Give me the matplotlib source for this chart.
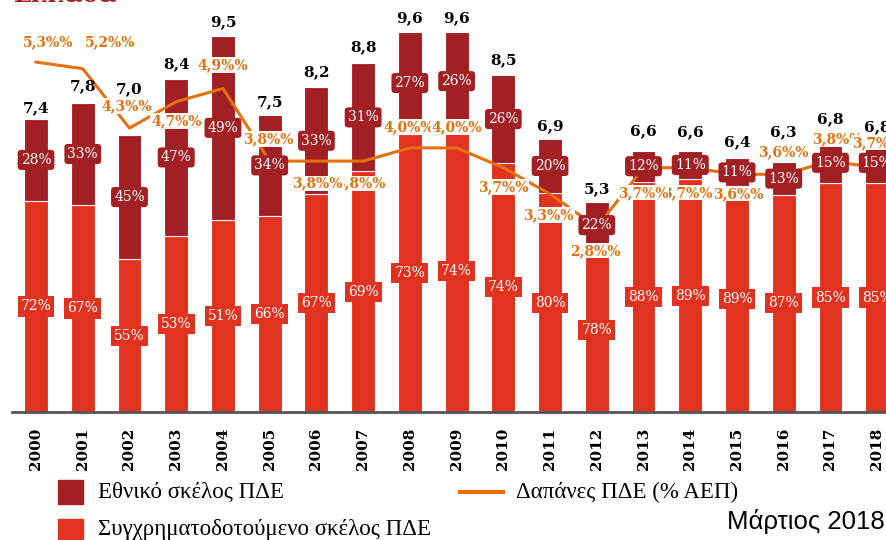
import numpy as np
import matplotlib
matplotlib.use('Agg')
import matplotlib.pyplot as plt
from matplotlib.patches import Rectangle
from matplotlib.lines import Line2D

# data
years = [str(y) for y in range(2000, 2019)]
totals = [7.4, 7.8, 7.0, 8.4, 9.5, 7.5, 8.2, 8.8, 9.6, 9.6, 8.5, 6.9, 5.3, 6.6, 6.6, 6.4, 6.3, 6.8, 6.8]
national_pct = [28, 33, 45, 47, 49, 34, 33, 31, 27, 26, 26, 20, 22, 12, 11, 11, 13, 15, 15]
cofin_pct = [72, 67, 55, 53, 51, 66, 67, 69, 73, 74, 74, 80, 78, 88, 89, 89, 87, 85, 85]
gdp_share = [5.3, 5.2, 4.3, 4.7, 4.9, 3.8, 3.8, 3.8, 4.0, 4.0, 3.7, 3.3, 2.8, 3.7, 3.7, 3.6, 3.6, 3.8, 3.7]

# label offsets (points), picked by eye
line_lbl_off = [(9, 14), (20, 19), (-2, 16), (0, -14), (0, 17), (-1, 16), (1, -16), (-2, -16),
                (-1, 15), (0, 15), (0, -14), (-1, -15), (-1, -17), (0, -18), (-2, -18), (1, -14),
                (0, 16), (5, 16), (0, 18)]
tot_lbl_off = [8, 12, 33, 11, 9.5, 9.5, 11, 12, 10, 10, 11, 9, 9, 14, 13, 11.5, 21.5, 17, 11]
lbl_z = {6: 7, 13: 8, 14: 7}

DARK = '#A21F23'
RED = '#E0321F'
ORANGE = '#E5700E'

fig = plt.figure(figsize=(8.87, 5.40), dpi=100)
ax = fig.add_axes([12 / 887, 1 - 412 / 540, 1 - 12 / 887, 412 / 540])
ax2 = ax.twinx()

x = np.arange(len(years))
tot = np.array(totals)
low = tot * np.array(cofin_pct) / 100
high = tot * np.array(national_pct) / 100

w = 0.51
ax.bar(x, low, w, color=RED, edgecolor='white', linewidth=0.8)
ax.bar(x, high, w, bottom=low, color=DARK, edgecolor='white', linewidth=0.8)

ax.set_xlim(-0.514, 18.21)
ax.set_ylim(0, 10.4)
ax2.set_ylim(0, 6.24)

for a in (ax, ax2):
    for s in a.spines.values():
        s.set_visible(False)
    a.set_yticks([])
ax.spines['bottom'].set_visible(True)
ax.spines['bottom'].set_color('#555555')
ax.spines['bottom'].set_linewidth(2)
ax.set_xticks(x)
ax.set_xticklabels(years, rotation=90, fontfamily='DejaVu Serif', fontweight='bold', fontsize=11)
ax.tick_params(axis='x', length=0, pad=11)

ax2.plot(x, gdp_share, color=ORANGE, lw=2.2, zorder=2)

serif = 'DejaVu Serif'
for i in range(len(years)):
    ax2.text(x[i], low[i] / 2, f'{cofin_pct[i]}%', transform=ax.transData, ha='center', va='center',
             color='white', fontsize=10, family=serif, zorder=3,
             bbox=dict(boxstyle='square,pad=0.22', fc=RED, ec='none'))
    ax2.text(x[i], low[i] + high[i] / 2, f'{national_pct[i]}%', transform=ax.transData, ha='center',
             va='center', color='white', fontsize=10, family=serif, zorder=3,
             bbox=dict(boxstyle='round,pad=0.22,rounding_size=0.25', fc=DARK, ec='none'))
    ax2.annotate(f'{totals[i]:.1f}'.replace('.', ','), (x[i], tot[i]), xycoords=ax.transData,
                 xytext=(0, tot_lbl_off[i]), textcoords='offset points', ha='center', va='center',
                 fontsize=11, fontweight='bold', family=serif, color='black', zorder=3)
    dx, dy = line_lbl_off[i]
    ax2.annotate(f'{gdp_share[i]:.1f}%%'.replace('.', ','), (x[i], gdp_share[i]),
                 xytext=(dx, dy), textcoords='offset points', ha='center', va='center',
                 fontsize=10, fontweight='bold', family=serif, color=ORANGE,
                 zorder=lbl_z.get(i, 5),
                 bbox=dict(boxstyle='square,pad=0.05', fc='white', ec='none'))

# cut-off title at the top
fig.text(14 / 887, 1 - 1 / 540, 'Ελλάδα', color=DARK, fontsize=17, fontweight='bold',
         family='DejaVu Serif', va='baseline', ha='left')

# legend
fw, fh = 887, 540
fig.add_artist(Rectangle((58 / fw, 1 - 504 / fh), 25 / fw, 24 / fh, transform=fig.transFigure,
                         color=DARK))
fig.add_artist(Rectangle((58 / fw, 1 - 543 / fh), 25 / fw, 24 / fh, transform=fig.transFigure,
                         color=RED))
fig.add_artist(Line2D([460 / fw, 503 / fw], [1 - 492 / fh] * 2, transform=fig.transFigure,
                      color=ORANGE, lw=3))
fig.text(98 / fw, 1 - 492 / fh, 'Εθνικό σκέλος ΠΔΕ', family='Liberation Serif', fontsize=16.5,
         va='center', ha='left')
fig.text(98 / fw, 1 - 530 / fh, 'Συγχρηματοδοτούμενο σκέλος ΠΔΕ', family='Liberation Serif',
         fontsize=16.5, va='center', ha='left')
fig.text(516 / fw, 1 - 492 / fh, 'Δαπάνες ΠΔΕ (% ΑΕΠ)', family='Liberation Serif', fontsize=16.5,
         va='center', ha='left')
fig.text(885 / fw, 1 - 522 / fh, 'Μάρτιος 2018', family='Liberation Sans', fontsize=18.5,
         va='center', ha='right')

fig.savefig('out.png', dpi=100)
